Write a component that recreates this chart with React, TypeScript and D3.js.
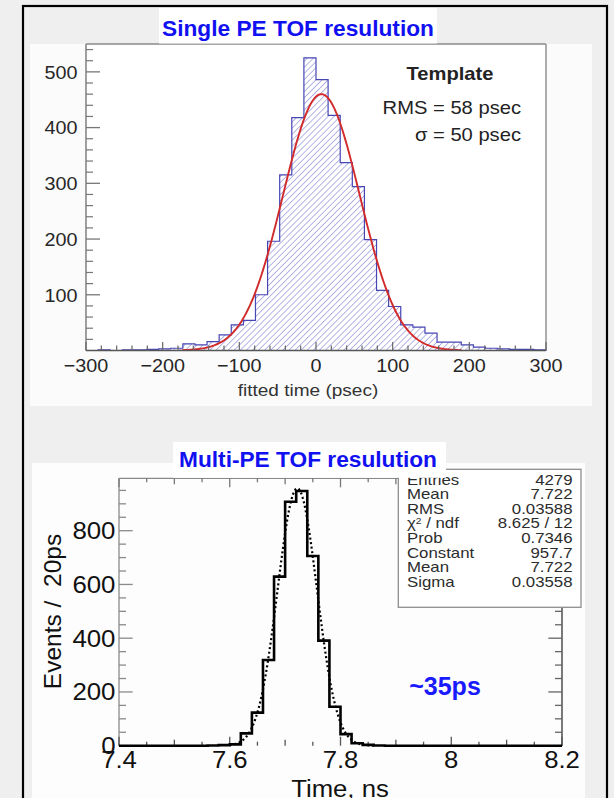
import React from 'react';
import * as d3 from 'd3';

// ---------- data ----------
const singleRange = [-300, 300];
const singleCounts = [0, 1, 0, 1, 1, 2, 3, 4, 12, 10, 16, 28, 46, 54, 100, 196, 315, 418, 525, 486, 422, 337, 294, 199, 108, 79, 46, 42, 31, 15, 15, 10, 6, 4, 3, 2, 2, 1];
const singleFit = { amp: 460, mean: 7, sigma: 50, from: -175, to: 190 };
const singleXTicks = [-300, -200, -100, 0, 100, 200, 300];
const singleYTicks = [100, 200, 300, 400, 500];
const singleYMax = 550;
const templateLines = ['RMS = 58 psec', 'σ = 50 psec'];

const multiRange = [7.4, 8.2];
const multiCounts = [0, 0, 0, 0, 0, 0, 0, 0, 1, 2, 5, 46, 123, 319, 629, 908, 948, 706, 391, 145, 43, 9, 3, 1, 0, 0, 0, 0, 0, 0, 0, 0, 0, 0, 0, 0, 0, 0, 0, 0];
const multiFit = { amp: 957.7, mean: 7.722, sigma: 0.03558, from: 7.6, to: 7.86 };
const multiXTicks = [7.4, 7.6, 7.8, 8, 8.2];
const multiYTicks = [0, 200, 400, 600, 800];
const multiYMax = 995;
const statsLabels = ['Entries', 'Mean', 'RMS', 'CHI', 'Prob', 'Constant', 'Mean', 'Sigma'];
const statsValues = ['4279', '7.722', '0.03588', '8.625 / 12', '0.7346', '957.7', '7.722', '0.03558'];

const FONT = "'Liberation Sans', Arial, Helvetica, sans-serif";

function T({ x, y, anchor = 'start', size, weight = 'normal', fill = '#222', sx = 1, children }: any) {
  return (
    <text transform={`translate(${x},${y}) scale(${sx},1)`} textAnchor={anchor} fontSize={size}
      fontWeight={weight} fill={fill} fontFamily={FONT} style={{ whiteSpace: 'pre' }}>{children}</text>
  );
}

function stepPath(counts: number[], range: number[], xs: any, ys: any) {
  const n = counts.length;
  const w = (range[1] - range[0]) / n;
  const p = d3.path();
  p.moveTo(xs(range[0]), ys(0));
  counts.forEach((c, i) => {
    p.lineTo(xs(range[0] + i * w), ys(c));
    p.lineTo(xs(range[0] + (i + 1) * w), ys(c));
  });
  p.lineTo(xs(range[1]), ys(0));
  return p.toString();
}

function gaussPath(f: any, xs: any, ys: any) {
  const pts = d3.range(0, 201).map((i) => {
    const x = f.from + (f.to - f.from) * i / 200;
    return [xs(x), ys(f.amp * Math.exp(-0.5 * ((x - f.mean) / f.sigma) ** 2))] as [number, number];
  });
  return d3.line().curve(d3.curveLinear)(pts) as string;
}

export default function App() {
  // top plot
  const tx = d3.scaleLinear().domain(singleRange).range([86, 546]);
  const ty = d3.scaleLinear().domain([0, singleYMax]).range([350.5, 44]);
  // bottom plot
  const bx = d3.scaleLinear().domain(multiRange).range([119, 562]);
  const by = d3.scaleLinear().domain([0, multiYMax]).range([745.7, 478.3]);

  const sxTop = 1.12;

  const topYMinor = d3.range(20, singleYMax, 20).filter((v) => v % 100 !== 0);
  const topXMinor = d3.range(-300, 301, 20);
  const botYTicks = d3.range(0, 20).map((i) => i * 50).filter((v) => v < multiYMax);
  const botXTicks = d3.range(0, 17).map((i) => ({ v: multiRange[0] + i * 0.05, lvl: i % 4 === 0 ? 0 : i % 2 === 0 ? 1 : 2 }));
  const botXLen = [9, 6, 4];

  const fmt = (v: number) => (v < 0 ? '\u2212' + Math.abs(v) : String(v));

  return (
    <svg width={614} height={798} style={{ position: 'absolute', left: 0, top: 0, background: '#efefef' }}>
      <defs>
        <pattern id="hatch" patternUnits="userSpaceOnUse" width={4.3} height={4.3} patternTransform="rotate(45)">
          <line x1={0} y1={0} x2={0} y2={4.3} stroke="#7e7ed2" strokeWidth={1.15} />
        </pattern>
      </defs>
      <rect x={0} y={0} width={614} height={798} fill="#efefef" />
      {/* canvases */}
      <rect x={30} y={44} width={562} height={362} fill="#fbfbfb" />
      <rect x={86} y={44} width={460} height={306.5} fill="#ffffff" />
      <rect x={32} y={463} width={553} height={335} fill="#fdfdfd" />

      {/* ===== TOP PLOT ===== */}
      <path d={stepPath(singleCounts, singleRange, tx, ty)} fill="url(#hatch)" stroke="none" />
      <path d={stepPath(singleCounts, singleRange, tx, ty)} fill="none" stroke="#4646b4" strokeWidth={1.2} />
      <path d={gaussPath(singleFit, tx, ty)} fill="none" stroke="#d22a2a" strokeWidth={1.9} />
      {/* frame */}
      <line x1={86} y1={44} x2={546} y2={44} stroke="#8a8a8a" strokeWidth={1.4} />
      <line x1={546} y1={44} x2={546} y2={350.5} stroke="#8a8a8a" strokeWidth={1.4} />
      <line x1={86} y1={44} x2={86} y2={350.5} stroke="#777" strokeWidth={1.4} />
      <line x1={86} y1={350.5} x2={546} y2={350.5} stroke="#555" strokeWidth={1.6} />
      {singleYTicks.map((v) => (
        <line key={'ty' + v} x1={86} x2={100} y1={ty(v)} y2={ty(v)} stroke="#777" strokeWidth={1.3} />
      ))}
      {topYMinor.map((v) => (
        <line key={'tym' + v} x1={86} x2={93} y1={ty(v)} y2={ty(v)} stroke="#777" strokeWidth={1.2} />
      ))}
      {topXMinor.map((v) => (
        <line key={'txm' + v} x1={tx(v)} x2={tx(v)} y1={350.5} y2={350.5 - (v % 100 === 0 ? 8.5 : 5)} stroke="#666" strokeWidth={1.2} />
      ))}
      {singleYTicks.map((v) => (
        <T key={'tyl' + v} x={77.5} y={ty(v) + 6.8} anchor="end" size={18.5} sx={1.07} fill="#262626">{fmt(v)}</T>
      ))}
      {singleXTicks.map((v) => (
        <T key={'txl' + v} x={tx(v)} y={371.5} anchor="middle" size={18.5} sx={1.07} fill="#262626">{fmt(v)}</T>
      ))}
      <T x={308} y={396} anchor="middle" size={17} sx={sxTop} fill="#333">fitted time (psec)</T>
      <T x={450} y={80} anchor="middle" size={18} weight="bold" sx={sxTop} fill="#222">Template</T>
      {templateLines.map((s, i) => (
        <T key={'tl' + i} x={521} y={113.5 + i * 27} anchor="end" size={18} sx={sxTop} fill="#222">{s}</T>
      ))}
      {/* title */}
      <rect x={159} y={8} width={278} height={35.5} fill="#ffffff" />
      <T x={298} y={35.7} anchor="middle" size={22.7} weight="bold" fill="#1010f0">Single PE TOF resulution</T>

      {/* ===== BOTTOM PLOT ===== */}
      {/* frame */}
      <line x1={119} y1={478.3} x2={562} y2={478.3} stroke="#8a8a8a" strokeWidth={1.3} />
      <line x1={119} y1={478.3} x2={119} y2={745.7} stroke="#8a8a8a" strokeWidth={1.3} />
      <line x1={562} y1={478.3} x2={562} y2={745.7} stroke="#333" strokeWidth={1.3} />
      {botYTicks.map((v) => {
        const len = v % 200 === 0 ? 13.7 : 7;
        return (
          <g key={'by' + v}>
            <line x1={119} x2={119 + len} y1={by(v)} y2={by(v)} stroke="#8a8a8a" strokeWidth={1.3} />
            <line x1={562} x2={562 - len} y1={by(v)} y2={by(v)} stroke="#666" strokeWidth={1.3} />
          </g>
        );
      })}
      {botXTicks.map((t, i) => (
        <g key={'bx' + i}>
          <line x1={bx(t.v)} x2={bx(t.v)} y1={745.7} y2={745.7 - botXLen[t.lvl]} stroke="#555" strokeWidth={1.3} />
          <line x1={bx(t.v)} x2={bx(t.v)} y1={478.3} y2={478.3 + botXLen[t.lvl]} stroke="#777" strokeWidth={1.3} />
        </g>
      ))}
      <path d={stepPath(multiCounts, multiRange, bx, by)} fill="none" stroke="#000" strokeWidth={2.6} strokeLinejoin="miter" />
      <path d={gaussPath(multiFit, bx, by)} fill="none" stroke="#000" strokeWidth={2.2} strokeDasharray="2 2.6" />
      {/* stats box */}
      <rect x={398.3} y={469.3} width={182.7} height={138} fill="#ffffff" stroke="#8e8e8e" strokeWidth={1.3} />
      {statsLabels.map((s, i) => (
        <T key={'sl' + i} x={407} y={484.5 + i * 14.6} size={14} sx={1.2} fill="#2c2c2c">
          {s === 'CHI' ? (<><tspan>χ</tspan><tspan dy={-4} fontSize={8.5}>2</tspan><tspan dy={4}> / ndf</tspan></>) : s}
        </T>
      ))}
      {statsValues.map((s, i) => (
        <T key={'sv' + i} x={572.5} y={484.5 + i * 14.6} anchor="end" size={14} sx={1.2} fill="#2c2c2c">{s}</T>
      ))}
      {/* title */}
      <rect x={173} y={442} width={273} height={35.8} fill="#ffffff" />
      <T x={308} y={467} anchor="middle" size={22.7} weight="bold" fill="#1010f0">Multi-PE TOF resulution</T>
      <T x={445} y={695} anchor="middle" size={25} weight="bold" fill="#1a1aff">~35ps</T>
      {multiYTicks.map((v) => (
        <T key={'byl' + v} x={115.5} y={by(v) + 8.3} anchor="end" size={23.5} sx={1.1} fill="#111">{String(v)}</T>
      ))}
      {multiXTicks.map((v) => (
        <T key={'bxl' + v} x={bx(v)} y={767.5} anchor="middle" size={24.5} sx={1.05} fill="#111">{String(v)}</T>
      ))}
      <T x={340} y={797} anchor="middle" size={24.5} sx={1.05} fill="#111">Time, ns</T>
      <text transform="translate(61,611.5) rotate(-90)" textAnchor="middle" fontSize={24.5} fontFamily={FONT} fill="#111"
        style={{ whiteSpace: 'pre' }}>{'Events /\u00a0 20ps'}</text>

      {/* outer slide frame */}
      <rect x={23} y={6} width={584} height={800} fill="none" stroke="#000" strokeWidth={2.2} />
    </svg>
  );
}
